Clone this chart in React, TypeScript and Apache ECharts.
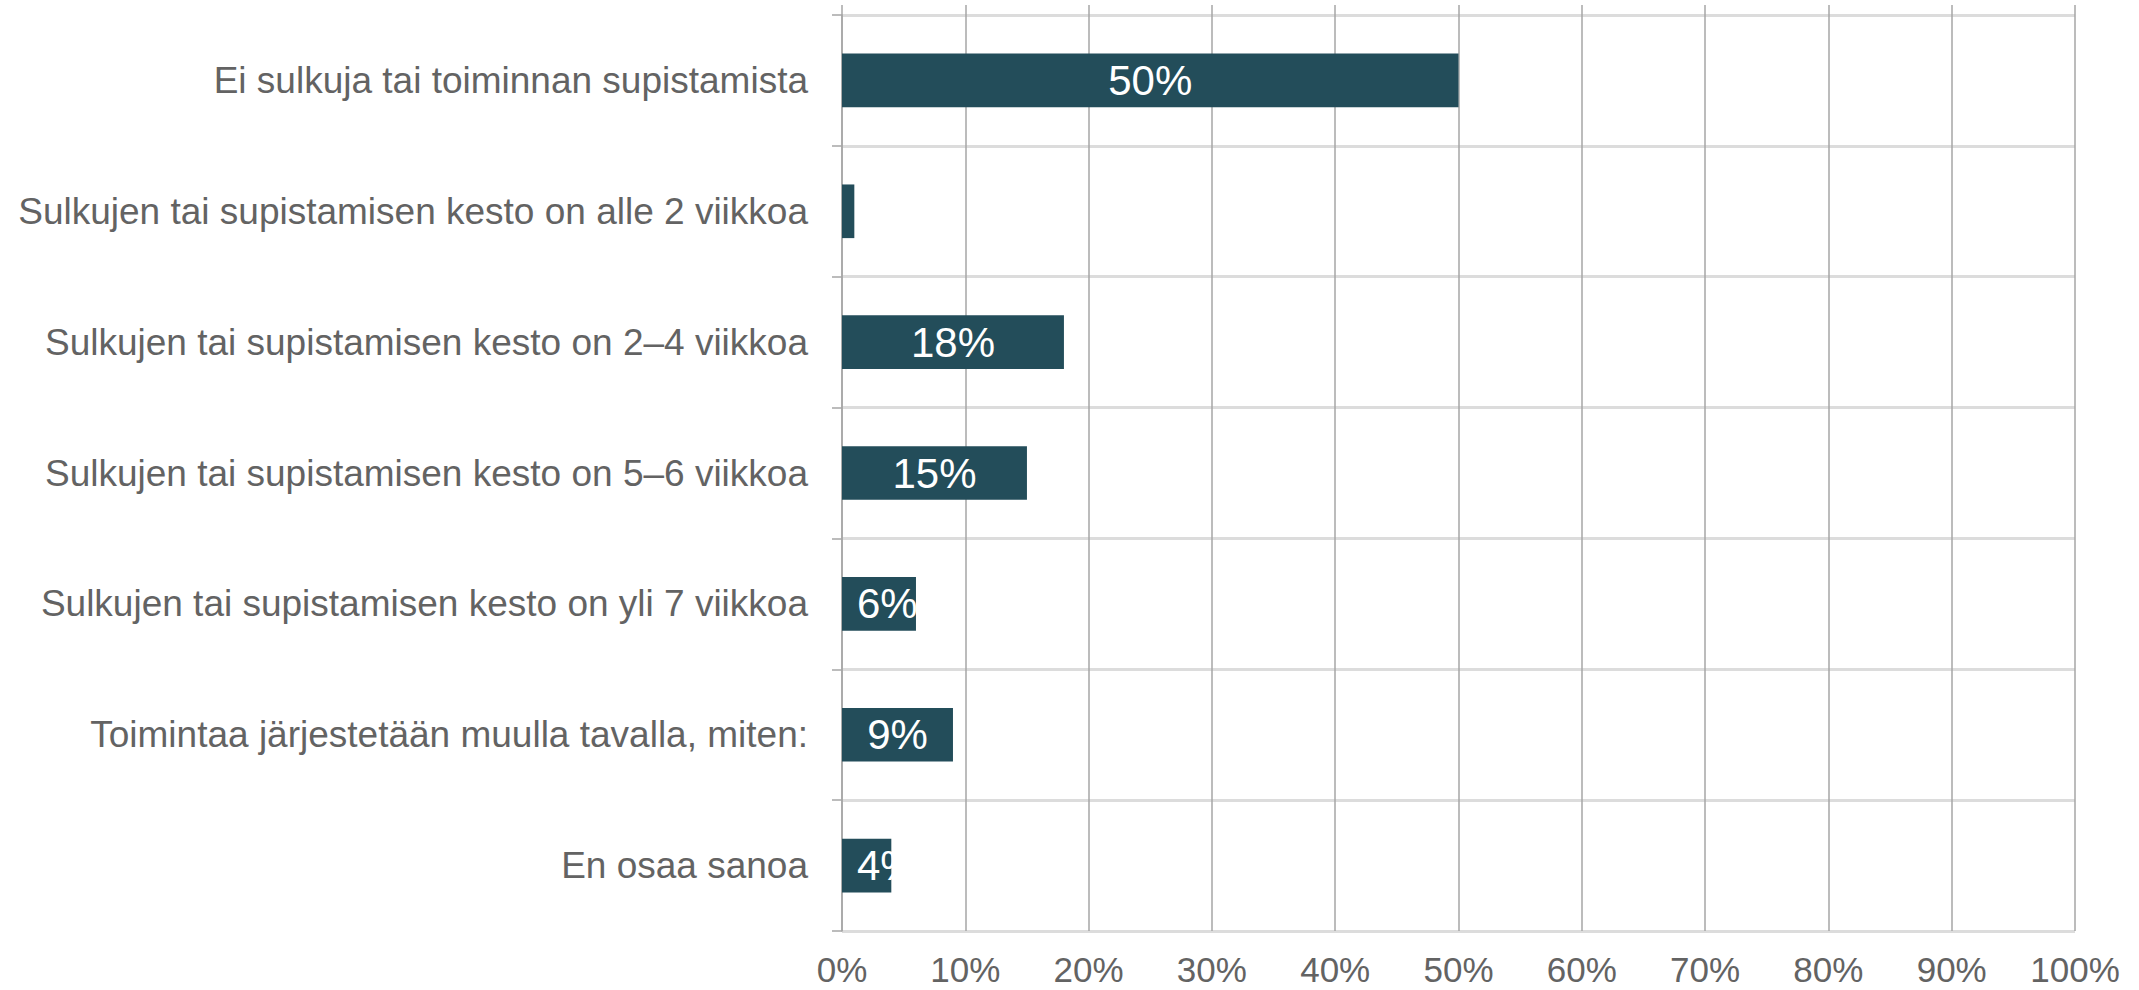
import React, { useEffect, useRef } from "react";
import * as echarts from "echarts";

const categories = [
  "Ei sulkuja tai toiminnan supistamista",
  "Sulkujen tai supistamisen kesto on alle 2 viikkoa",
  "Sulkujen tai supistamisen kesto on 2–4 viikkoa",
  "Sulkujen tai supistamisen kesto on 5–6 viikkoa",
  "Sulkujen tai supistamisen kesto on yli 7 viikkoa",
  "Toimintaa järjestetään muulla tavalla, miten:",
  "En osaa sanoa",
];
const values = [50, 1, 18, 15, 6, 9, 4];
// label mode per bar: "center", "left" (label wider than bar), "none"
const labelModes = ["center", "none", "center", "center", "left", "center", "left"];

const FONT = "'Liberation Sans', Arial, sans-serif";
const BAR = "#234d5a";
const GRID_V = "#a6a6a6";
const GRID_H = "#dcdcdc";
const TEXT = "#636363";

export default function App() {
  const ref = useRef<HTMLDivElement>(null);
  useEffect(() => {
    if (!ref.current) return;
    const chart = echarts.init(ref.current, undefined, { renderer: "svg" });
    const data = values.map((v, i) => {
      const mode = labelModes[i];
      if (mode === "none") return { value: v, label: { show: false } };
      if (mode === "left")
        return { value: v, label: { show: true, position: "insideLeft", distance: 15 } };
      return { value: v };
    });
    chart.setOption({
      animation: false,
      backgroundColor: "#ffffff",
      grid: { left: 842, right: 64, top: 15, bottom: 59, containLabel: false },
      xAxis: [
        {
          type: "value",
          min: 0,
          max: 100,
          interval: 10,
          position: "bottom",
          axisLine: { show: false },
          axisTick: { show: false },
          axisLabel: {
            formatter: "{value}%",
            fontSize: 35,
            lineHeight: 35,
            color: TEXT,
            fontFamily: FONT,
            margin: 21,
          },
          splitLine: { show: true, lineStyle: { color: GRID_V, width: 1.5 } },
        },
        {
          type: "value",
          min: 0,
          max: 100,
          interval: 10,
          position: "top",
          axisLine: { show: false },
          axisTick: { show: true, length: 10, lineStyle: { color: GRID_V, width: 1.5 } },
          axisLabel: { show: false },
          splitLine: { show: false },
        },
      ],
      yAxis: {
        type: "category",
        inverse: true,
        data: categories,
        axisLine: { show: true, lineStyle: { color: GRID_V, width: 1.5 } },
        axisTick: { show: true, length: 10, lineStyle: { color: GRID_V, width: 1.5 } },
        axisLabel: {
          fontSize: 37,
          color: TEXT,
          fontFamily: FONT,
          margin: 34,
        },
        splitLine: { show: true, lineStyle: { color: GRID_H, width: 3 } },
      },
      series: [
        {
          type: "bar",
          xAxisIndex: 0,
          data,
          barCategoryGap: "59%",
          itemStyle: { color: BAR },
          label: {
            show: true,
            position: "inside",
            formatter: "{c}%",
            color: "#ffffff",
            fontSize: 42,
            fontFamily: FONT,
          },
        },
      ],
    });
    return () => chart.dispose();
  }, []);
  return (
    <div
      ref={ref}
      style={{ position: "fixed", left: 0, top: 0, width: 2139, height: 990, background: "#fff" }}
    />
  );
}
